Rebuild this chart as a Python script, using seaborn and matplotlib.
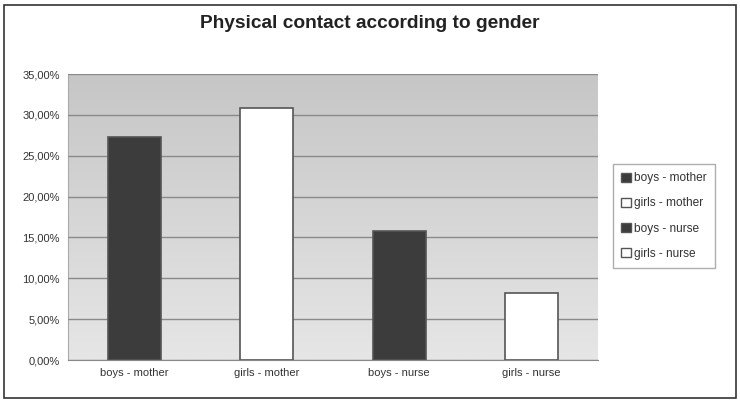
import numpy as np
import pandas as pd
import matplotlib
matplotlib.use('Agg')
import matplotlib.pyplot as plt
import seaborn as sns
from matplotlib.patches import Rectangle
from matplotlib.ticker import FuncFormatter

# data
groups = ['boys - mother', 'girls - mother', 'boys - nurse', 'girls - nurse']
contact_pct = [27.3, 30.8, 15.8, 8.2]
bar_colors = ['#3c3c3c', '#ffffff', '#3c3c3c', '#ffffff']
y_ticks = [0, 5, 10, 15, 20, 25, 30, 35]

sns.set_style('white')
plt.rcParams['font.family'] = ['Liberation Sans', 'DejaVu Sans']

df = pd.DataFrame({'group': groups, 'pct': contact_pct})

fig = plt.figure(figsize=(7.4, 4.0), dpi=100)
ax = fig.add_axes([0.092, 0.10, 0.716, 0.715])

# gray gradient behind the bars
grad = np.linspace(0, 1, 256).reshape(-1, 1)
ax.imshow(grad, cmap=matplotlib.colors.LinearSegmentedColormap.from_list(
    'bg', ['#c6c6c6', '#e6e6e6']), aspect='auto',
    extent=(-0.5, 3.5, 0, 35), origin='upper', zorder=0)

sns.barplot(data=df, x='group', y='pct', hue='group', palette=bar_colors,
            width=0.4, edgecolor='#555555', linewidth=1.2, legend=False,
            ax=ax, zorder=3)

ax.set_xlim(-0.5, 3.5)
ax.set_ylim(0, 35)
ax.set_yticks(y_ticks)
ax.yaxis.set_major_formatter(FuncFormatter(lambda v, p: f'{v:.2f}%'.replace('.', ',')))
ax.grid(axis='y', color='#8a8a8a', linewidth=1.0, zorder=1)
ax.set_axisbelow(False)
for line in ax.get_ygridlines():
    line.set_zorder(1)
ax.set_xlabel('')
ax.set_ylabel('')
ax.tick_params(axis='both', labelsize=8, colors='#333333', length=0, pad=6)
for s in ax.spines.values():
    s.set_visible(False)
ax.spines['bottom'].set_visible(True)
ax.spines['bottom'].set_color('#888888')
ax.spines['left'].set_visible(True)
ax.spines['left'].set_color('#aaaaaa')

handles = [Rectangle((0, 0), 1, 1, facecolor=c, edgecolor='#555555') for c in bar_colors]
leg = fig.legend(handles, groups, loc='upper left', bbox_to_anchor=(0.82, 0.605),
                 fontsize=8.6, frameon=True, fancybox=False, edgecolor='#999999',
                 handlelength=0.8, handleheight=0.8, handletextpad=0.3,
                 labelspacing=1.1, borderpad=0.7)
for t in leg.get_texts():
    t.set_color('#333333')

fig.text(0.5, 0.94, 'Physical contact according to gender', ha='center', va='center',
         fontsize=13.8, fontweight='bold', color='#222222')

# frame around the whole chart
fig.patches.append(Rectangle((0.006, 0.006), 0.988, 0.982, transform=fig.transFigure,
                             fill=False, edgecolor='#333333', linewidth=1.2))

fig.savefig('out.png', dpi=100)
